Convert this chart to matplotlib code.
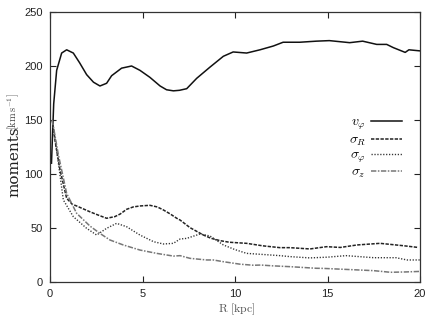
import matplotlib
matplotlib.use("Agg")
import matplotlib.pyplot as plt

plt.rcParams['mathtext.fontset'] = 'cm'

# ---- data ----
R_vphi = [0.08, 0.2, 0.36, 0.63, 0.9, 1.26, 1.6, 1.98, 2.35, 2.7, 3.06, 3.33, 3.87, 4.41,
          4.86, 5.4, 5.95, 6.3, 6.67, 7.0, 7.39, 7.93, 8.65, 9.37, 9.9, 10.63, 11.35,
          12.07, 12.6, 13.5, 14.4, 15.1, 16.2, 16.9, 17.66, 18.2, 18.56, 19.2, 19.4, 20.0]
vphi = [110, 165, 196, 212, 215, 212, 203, 192, 185, 181.5, 184, 191, 198, 200,
        196, 189.5, 181.5, 178, 177, 177.5, 179, 188.6, 199, 209, 213, 212, 215,
        218.5, 222, 222, 223, 223.5, 221.6, 223, 220, 220, 217, 212.6, 215, 214]

R_sigR = [0.12, 0.3, 0.54, 0.9, 1.2, 1.44, 2.16, 2.6, 3.06, 3.5, 3.8, 4.14, 4.5, 4.86,
          5.4, 5.8, 6.13, 6.5, 6.85, 7.03, 7.57, 8.29, 8.7, 9.19, 9.7, 10.63, 11.5,
          12.43, 12.97, 14.05, 14.95, 15.7, 16.6, 17.84, 19.1, 19.9]
sigR = [150, 128, 104, 77.5, 72, 70.4, 65, 62, 59, 60.5, 63, 67.3, 69.5, 70.4,
        71, 69.5, 66.7, 63, 59, 57.4, 50.3, 43.5, 40.5, 38.3, 36.8, 35.8, 33.5,
        31.8, 31.8, 30.6, 32.7, 32, 34.3, 35.8, 33.6, 32]

R_sigphi = [0.12, 0.36, 0.72, 1.26, 1.98, 2.52, 3.06, 3.6, 4.14, 4.86, 5.6, 6.13, 6.67,
            7.03, 7.39, 8.1, 8.4, 8.65, 9.37, 10.0, 10.63, 11.5, 12.43, 12.97, 14.05,
            15.0, 16.0, 17.5, 18.7, 19.3, 20.0]
sigphi = [150, 122, 76, 60.5, 49.7, 43.5, 49.7, 54.3, 51.2, 43.5, 37.3, 35.2, 35.8,
          39.8, 40.4, 44.4, 43.5, 42.6, 34.3, 30, 26.5, 25.5, 24.4, 23.5, 22.3,
          23, 24.4, 22.5, 22.5, 20.4, 20.4]

R_sigz = [0.12, 0.45, 0.9, 1.44, 2.16, 2.7, 3.24, 3.96, 4.86, 5.77, 6.67, 7.03, 7.57,
          8.47, 8.83, 9.37, 10.27, 11.0, 11.4, 12.0, 12.97, 14.4, 14.77, 16.6, 17.5,
          18.4, 19.2, 20.0]
sigz = [150, 118, 82, 63.6, 51.8, 45, 38.9, 34.3, 29.6, 26.5, 24, 24.4, 21.9,
        20.4, 20.4, 18.8, 16.5, 15.5, 15.7, 15, 14.2, 12.7, 12.6, 11.2, 10.5,
        9.0, 9.3, 9.8]

labels = [r'$v_\varphi$', r'$\sigma_R$', r'$\sigma_\varphi$', r'$\sigma_z$']
xticks = [0, 5, 10, 15, 20]
yticks = [0, 50, 100, 150, 200, 250]

fig = plt.figure(figsize=(4.36, 3.18), dpi=100)
ax = fig.add_axes([50/436, 36/318, 370/436, 270/318])

ax.plot(R_vphi, vphi, color='#111111', lw=1.1, ls='-', label=labels[0])
ax.plot(R_sigR, sigR, color='#222222', lw=1.1, ls=(0, (2.2, 0.9)), label=labels[1])
ax.plot(R_sigphi, sigphi, color='#333333', lw=1.0, ls=(0, (0.9, 1.2)), label=labels[2])
ax.plot(R_sigz, sigz, color='#777777', lw=1.1, ls=(0, (3.5, 1.0, 1.0, 1.0)), label=labels[3])

ax.set_xlim(0, 20)
ax.set_ylim(0, 250)
ax.set_xticks(xticks)
ax.set_yticks(yticks)
ax.tick_params(direction='in', top=True, right=True, length=4, width=0.8,
               labelsize=8, colors='#222222', pad=5)
for lab in ax.get_xticklabels() + ax.get_yticklabels():
    lab.set_fontfamily('Liberation Sans')
for s in ax.spines.values():
    s.set_linewidth(0.9)
    s.set_color('#333333')

leg = ax.legend(loc='upper right', bbox_to_anchor=((402 - 50) / 370, (282 - 115) / 270),
                frameon=False, markerfirst=False, handlelength=2.2, handletextpad=0.4,
                labelspacing=0.0, fontsize=10, borderaxespad=0, borderpad=0)

fig.text(14/436, 1 - 162/318, 'moments', rotation=90, ha='center', va='center',
         fontsize=11, family='DejaVu Serif', color='#222222')
fig.text(14/436, 1 - 112/318, r'$[\mathrm{km\,s^{-1}}]$', rotation=90, ha='center',
         va='center', fontsize=7.5, color='#444444')
fig.text(237/436, 1 - 309/318, r'$\mathrm{R}\ [\mathrm{kpc}]$', ha='center', va='center',
         fontsize=8.5, color='#555555')

fig.savefig('out.png', dpi=100)
